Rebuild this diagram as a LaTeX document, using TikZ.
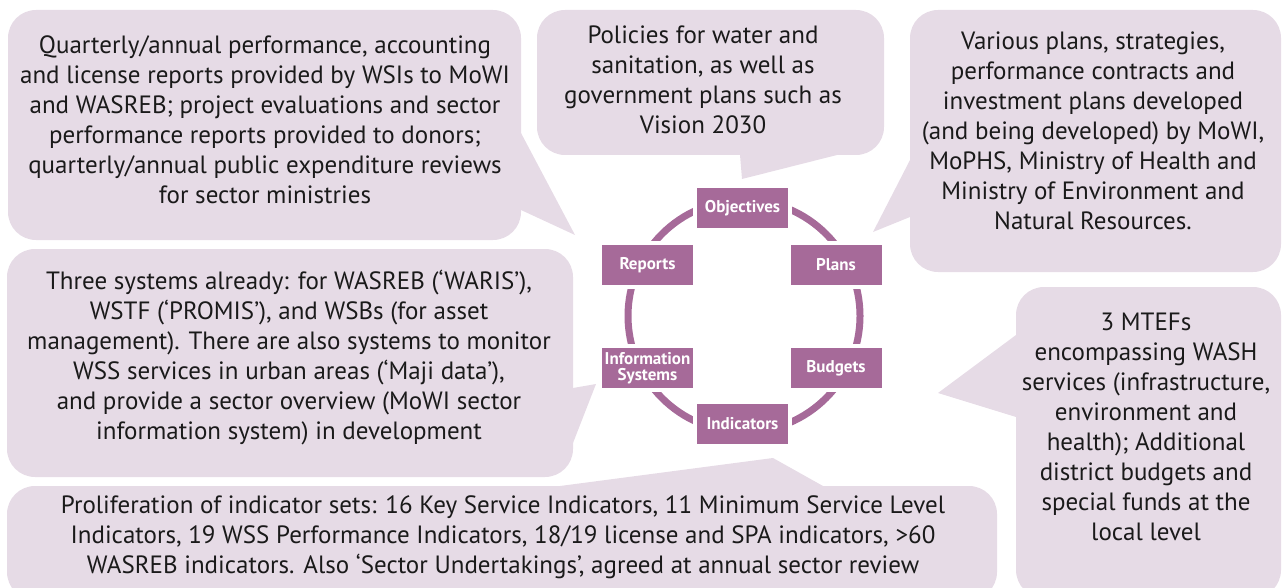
\documentclass[tikz,border=0pt]{standalone}
\usepackage{fontspec}
\setmainfont{PT Sans}
\definecolor{plum}{RGB}{166,106,153}
\definecolor{lav}{RGB}{230,219,230}
\definecolor{ink}{RGB}{26,26,26}
\begin{document}
\begin{tikzpicture}[x=1pt,y=-1pt,
  bubble/.style={fill=lav, rounded corners=28pt},
  tail/.style={fill=lav},
  bubtext/.style={text=ink, align=center, font=\fontsize{25}{30}\selectfont, inner sep=0pt},
  stage/.style={fill=plum, draw=white, line width=4pt, minimum width=95pt, minimum height=44pt, inner sep=0pt, text=white, font=\bfseries\fontsize{17}{18}\selectfont, align=center},
  ring/.style={draw=plum, line width=7pt}]
\useasboundingbox (0,0) rectangle (1282,588);

% callout shapes
\fill[bubble] (8,10) rectangle (521,240);
\fill[tail] (521,133) -- (575,235) -- (521,210) -- (512,210) -- (512,133) -- cycle;

\fill[bubble] (537,10) rectangle (884,155);
\fill[tail] (740,155) -- (742,179) -- (837,155) -- (837,147) -- (740,147) -- cycle;

\fill[bubble] (910,10) rectangle (1281,272);
\fill[tail] (910,160) -- (873,232) -- (910,217) -- (918,217) -- (918,160) -- cycle;

\fill[bubble] (1016,287) rectangle (1281,598);
\fill[tail] (1016,335) -- (938,393) -- (1016,417) -- (1024,417) -- (1024,335) -- cycle;

\fill[bubble] (7,249) rectangle (573,477);
\fill[tail] (573,388) -- (596,384) -- (573,443) -- (565,443) -- (565,388) -- cycle;

\fill[bubble] (7,486) rectangle (997,600);
\fill[tail] (560,486) -- (773,458) -- (823,486) -- (823,494) -- (560,494) -- cycle;

% callout texts
\node[bubtext] (reportsnote) at (265,120) {Quarterly/annual performance, accounting\\and license reports provided by WSIs to MoWI\\and WASREB; project evaluations and sector\\performance reports provided to donors;\\quarterly/annual public expenditure reviews\\for sector ministries};
\node[bubtext] (objnote) at (703,80) {Policies for water and\\sanitation, as well as\\government plans such as\\Vision 2030};
\node[bubtext] (plannote) at (1093,131) {Various plans, strategies,\\performance contracts and\\investment plans developed\\(and being developed) by MoWI,\\MoPHS, Ministry of Health and\\Ministry of Environment and\\Natural Resources.};
\node[bubtext] (budgetnote) at (1146,427) {3 MTEFs\\encompassing WASH\\services (infrastructure,\\environment and\\health); Additional\\district budgets and\\special funds at the\\local level};
\node[bubtext] (infonote) at (289,358) {Three systems already: for WASREB (‘WARIS’),\\WSTF (‘PROMIS’), and WSBs (for asset\\management). There are also systems to monitor\\WSS services in urban areas (‘Maji data’),\\and provide a sector overview (MoWI sector\\information system) in development};
\node[bubtext] (indnote) at (503,537) {Proliferation of indicator sets: 16 Key Service Indicators, 11 Minimum Service Level\\Indicators, 19 WSS Performance Indicators, 18/19 license and SPA indicators, >60\\WASREB indicators. Also ‘Sector Undertakings’, agreed at annual sector review};

% cycle
\coordinate (c) at (744,316);
\draw[ring] (c) circle (116pt);

\node[stage] (obj) at (742.5,208) {Objectives};
\node[stage] (plans) at (836,265) {Plans};
\node[stage] (budgets) at (836,368) {Budgets};
\node[stage] (ind) at (742.5,424) {Indicators};
\node[stage] (info) at (647.5,368) {Information\\[-2pt]Systems};
\node[stage] (reports) at (647.5,265) {Reports};
\end{tikzpicture}
\end{document}
